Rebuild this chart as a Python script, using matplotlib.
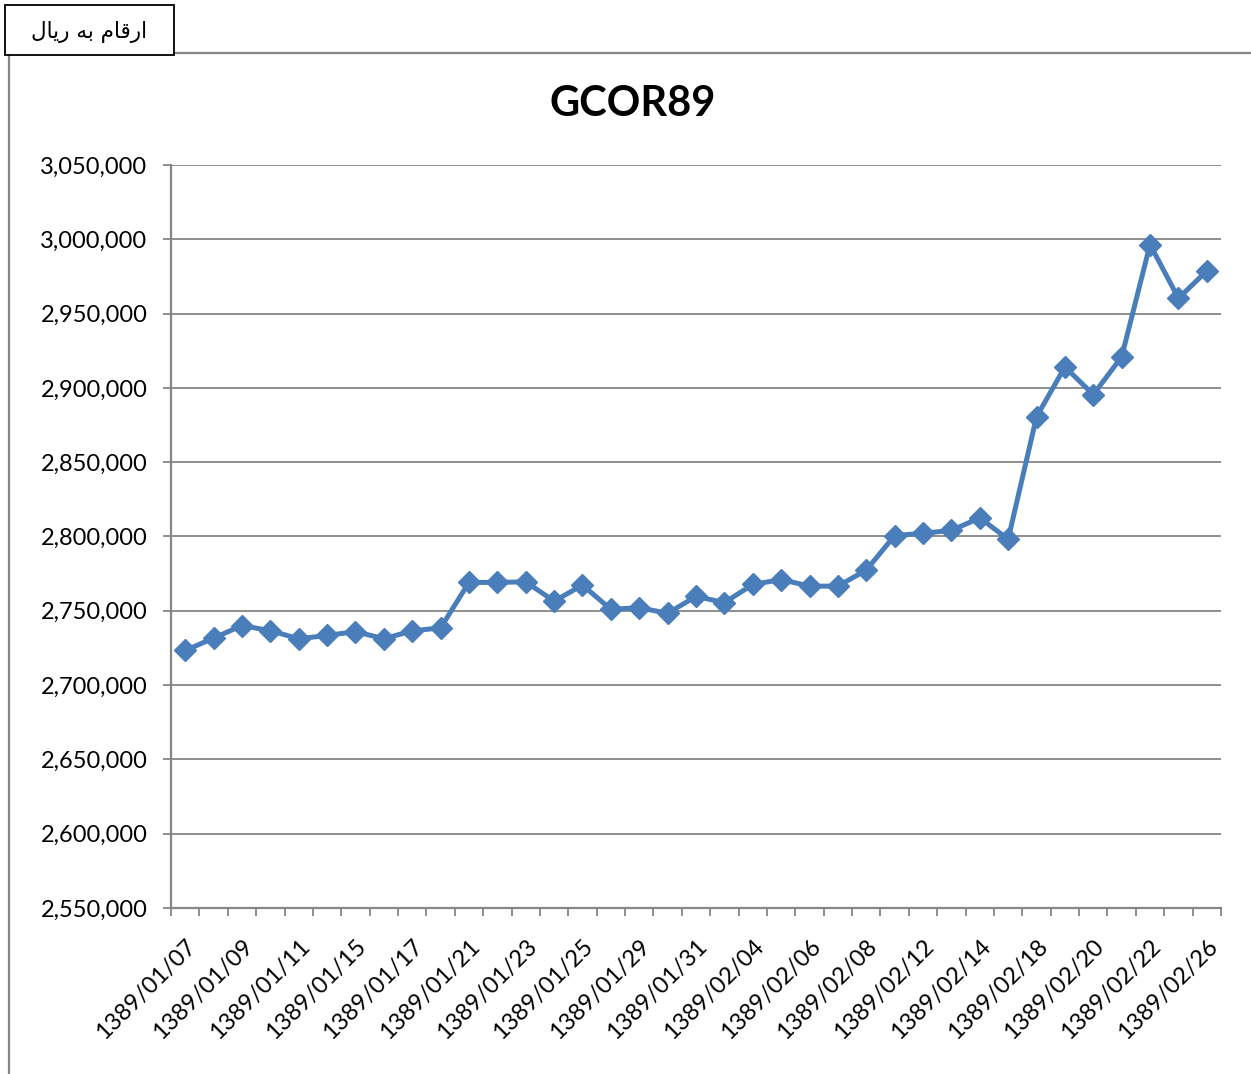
import matplotlib
matplotlib.use("Agg")
import matplotlib.pyplot as plt
from matplotlib.ticker import FuncFormatter, FixedLocator
from matplotlib.patches import Rectangle
from matplotlib.lines import Line2D

# ---- data ----
dates = ["1389/01/07", "1389/01/08", "1389/01/09", "1389/01/10", "1389/01/11", "1389/01/14",
         "1389/01/15", "1389/01/16", "1389/01/17", "1389/01/18", "1389/01/21", "1389/01/22",
         "1389/01/23", "1389/01/24", "1389/01/25", "1389/01/28", "1389/01/29", "1389/01/30",
         "1389/01/31", "1389/02/01", "1389/02/04", "1389/02/05", "1389/02/06", "1389/02/07",
         "1389/02/08", "1389/02/11", "1389/02/12", "1389/02/13", "1389/02/14", "1389/02/15",
         "1389/02/18", "1389/02/19", "1389/02/20", "1389/02/21", "1389/02/22", "1389/02/25",
         "1389/02/26"]
prices = [2723300, 2731600, 2740100, 2736600, 2731200, 2733400, 2736000, 2731200, 2736500,
          2738500, 2769100, 2769100, 2769500, 2756500, 2767300, 2751000, 2752100, 2748300,
          2759700, 2755500, 2767700, 2771000, 2766600, 2766600, 2777400, 2800600, 2802200,
          2804100, 2812500, 2798200, 2880600, 2914100, 2895500, 2920900, 2996500, 2960300,
          2978700]
y_ticks = [2550000, 2600000, 2650000, 2700000, 2750000, 2800000, 2850000, 2900000,
           2950000, 3000000, 3050000]
title = "GCOR89"
unit_note = "ارقام به ریال"
# visual (presentation-form, left-to-right) rendering of unit_note
unit_note_visual = "\uFEDD\uFE8E\uFBFE\uFEAD \uFEEA\uFE91 \uFEE1\uFE8E\uFED7\uFEAD\uFE8D"

W, H = 1251, 1074
fig = plt.figure(figsize=(W / 100, H / 100), dpi=100)
fig.patch.set_facecolor("white")

gray = "#868686"
blue = "#4A7EBB"
font = "Lato"

# chart-area border (left and top, clipped by the image)
fig.add_artist(Line2D([9 / W, 9 / W], [0, 1 - 53 / H], transform=fig.transFigure,
                      color=gray, lw=1.6))
fig.add_artist(Line2D([9 / W, 1], [1 - 53 / H, 1 - 53 / H], transform=fig.transFigure,
                      color=gray, lw=1.6))
# unit box
fig.add_artist(Rectangle((5 / W, 1 - 55 / H), 169 / W, 50 / H, transform=fig.transFigure,
                         facecolor="white", edgecolor="black", lw=1.3, zorder=5))
fig.text(89 / W, 1 - 32 / H, unit_note_visual, family="DejaVu Sans", fontsize=15.5,
         ha="center", va="center", zorder=6)

ax = fig.add_axes([171 / W, (H - 908) / H, (1221 - 171) / W, (908 - 165) / H])
x = list(range(len(prices)))
ax.plot(x, prices, color=blue, lw=3.6, marker="D", markersize=11,
        markerfacecolor=blue, markeredgecolor=blue, zorder=3, clip_on=False)

ax.set_xlim(-0.5, len(prices) - 0.5)
ax.set_ylim(y_ticks[0], y_ticks[-1])
ax.yaxis.set_major_locator(FixedLocator(y_ticks))
ax.yaxis.set_major_formatter(FuncFormatter(lambda v, p: f"{v:,.0f}"))
ax.grid(axis="y", color=gray, lw=1.3)
ax.set_axisbelow(True)

ax.xaxis.set_major_locator(FixedLocator(x[::2]))
ax.set_xticklabels(dates[::2])
ax.xaxis.set_minor_locator(FixedLocator([i - 0.5 for i in range(len(prices) + 1)]))
ax.tick_params(axis="x", which="major", length=0, pad=20)
ax.tick_params(axis="x", which="minor", length=6, width=1.3, color=gray, direction="out")
ax.tick_params(axis="y", which="major", length=6, width=1.3, color=gray, direction="out", pad=11)

for lab in ax.get_xticklabels():
    lab.set_rotation(45)
    lab.set_ha("right")
    lab.set_va("top")
    lab.set_rotation_mode("anchor")
    lab.set_fontsize(17)
    lab.set_family(font)
for lab in ax.get_yticklabels():
    lab.set_fontsize(17)
    lab.set_family(font)

for s in ["top", "right"]:
    ax.spines[s].set_visible(False)
for s in ["left", "bottom"]:
    ax.spines[s].set_color(gray)
    ax.spines[s].set_linewidth(1.6)

fig.text(633 / W, 1 - 104 / H, title, family=font, fontweight="bold", fontsize=30,
         ha="center", va="center")

fig.savefig("out.png", dpi=100)
